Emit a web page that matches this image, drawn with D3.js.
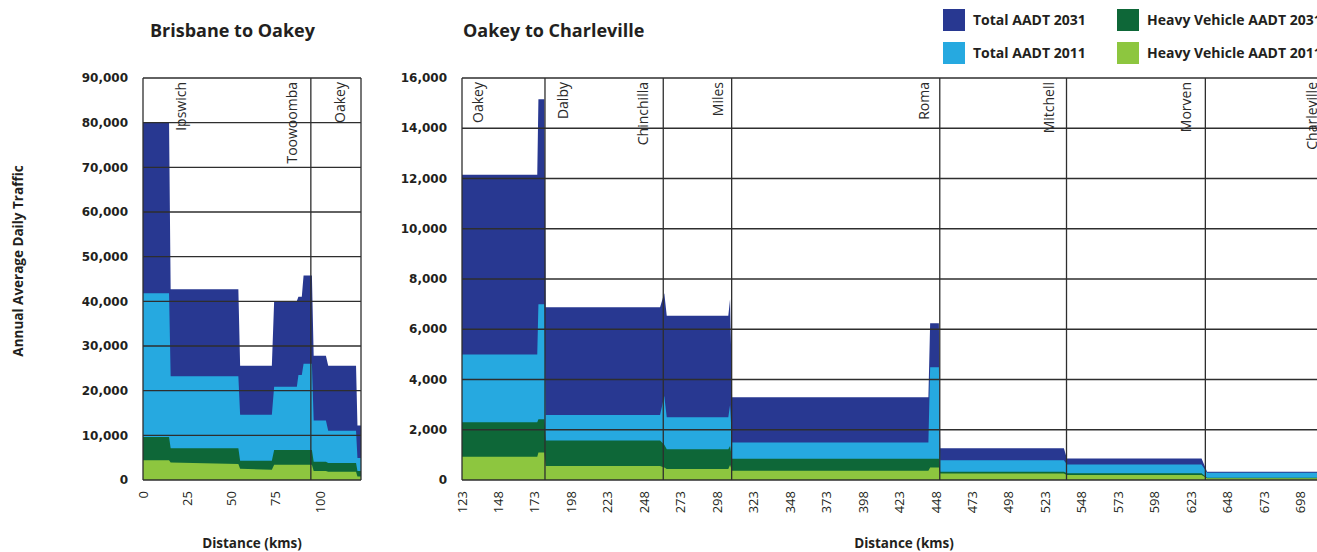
<!DOCTYPE html>
<html>
<head>
<meta charset="utf-8">
<script src="https://cdn.jsdelivr.net/npm/d3@7/dist/d3.min.js"></script>
<style>
  body { margin: 0; background: #fff; }
  svg { display: block; font-family: "Open Sans", sans-serif; }
</style>
</head>
<body>
<svg id="chart" width="1317" height="552"></svg>
<script>
const seriesNames = ["Total AADT 2031", "Total AADT 2011", "Heavy Vehicle AADT 2031", "Heavy Vehicle AADT 2011"];
const seriesColors = ["#283891", "#26a9e0", "#0e6738", "#8dc63f"];

// Brisbane to Oakey
const leftKm = [0, 14.7, 15.6, 53.8, 54.8, 72.7, 74, 86.8, 87.7, 89.6, 90.6, 95.3, 96.3, 103.2, 104.5, 120.2, 121, 123];
const leftTotal2031 = [80000, 80000, 42700, 42700, 25600, 25600, 40100, 40100, 41000, 41000, 45800, 45800, 27800, 27800, 25600, 25600, 12200, 12200];
const leftTotal2011 = [41800, 41800, 23200, 23200, 14600, 14600, 20900, 20900, 23500, 23500, 26000, 26000, 13300, 13300, 11000, 11000, 4900, 4900];
const leftHv2031 = [9600, 9600, 7100, 7100, 4300, 4300, 6700, 6700, 6700, 6700, 6700, 6700, 4100, 4100, 3800, 3800, 2000, 2000];
const leftHv2011 = [4400, 4400, 3900, 3600, 2500, 2300, 3400, 3400, 3400, 3400, 3400, 3400, 2000, 2000, 1850, 1850, 800, 800];
const leftTowns = ["Ipswich", "Toowoomba", "Oakey"];
const leftTownKm = [21.5, 84, 111];
const leftDividers = [94.7];
const leftXTicks = [0, 25, 50, 75, 100];
const leftYTicks = [0, 10000, 20000, 30000, 40000, 50000, 60000, 70000, 80000, 90000];

// Oakey to Charleville
const rightKm = [123, 174.6, 175.4, 179.5, 180.4, 258.8, 261.7, 263.4, 305.6, 306.8, 308.2, 442.8, 444, 450, 450.9, 535.7, 537.8, 630.1, 633.9, 728];
const rightTotal2031 = [12150, 12150, 15150, 15150, 6880, 6880, 7430, 6540, 6540, 7190, 3290, 3290, 6240, 6240, 1260, 1260, 860, 860, 330, 330];
const rightTotal2011 = [5000, 5000, 7000, 7000, 2590, 2590, 3340, 2500, 2500, 2990, 1490, 1490, 4490, 4490, 790, 790, 620, 620, 290, 290];
const rightHv2031 = [2300, 2300, 2420, 2420, 1570, 1570, 1400, 1220, 1220, 1350, 850, 850, 850, 850, 330, 330, 265, 265, 93, 93];
const rightHv2011 = [930, 930, 1090, 1090, 560, 560, 500, 440, 440, 600, 370, 370, 500, 500, 260, 260, 200, 200, 66, 66];
const rightTowns = ["Oakey", "Dalby", "Chinchilla", "Miles", "Roma", "Mitchell", "Morven", "Charleville"];
const rightTownKm = [134, 192.3, 247.1, 298.5, 439.6, 525.7, 619.7, 705.8];
const rightDividers = [179.9, 261, 307.9, 450.6, 537.5, 632.7];
const rightXTicks = [123, 148, 173, 198, 223, 248, 273, 298, 323, 348, 373, 398, 423, 448, 473, 498, 523, 548, 573, 598, 623, 648, 673, 698];
const rightYTicks = [0, 2000, 4000, 6000, 8000, 10000, 12000, 14000, 16000];

const svg = d3.select("#chart");
const gridColor = "#2e2e2e";
const fmt = d3.format(",");

const drawPanel = (p) => {
    const x = d3.scaleLinear().domain([p.km[0], p.km[p.km.length - 1]]).range([p.left, p.right]);
    const y = d3.scaleLinear().domain([0, d3.max(p.yTicks)]).range([480, 78]);
    const g = svg.append("g");

    const area = d3.area()
        .x((d, i) => x(p.km[i]))
        .y0(y(0))
        .y1(d => y(d));

    g.append("g")
        .selectAll("path")
        .data(p.series)
        .join("path")
        .attr("d", d => area(d))
        .attr("fill", (d, i) => seriesColors[i]);

    // grid
    g.append("g")
        .selectAll("line")
        .data(p.yTicks)
        .join("line")
        .attr("x1", p.left)
        .attr("x2", p.right)
        .attr("y1", d => y(d))
        .attr("y2", d => y(d))
        .attr("stroke", gridColor)
        .attr("stroke-width", 1.3);

    g.append("g")
        .selectAll("line")
        .data([p.km[0], ...p.dividers, p.km[p.km.length - 1]])
        .join("line")
        .attr("x1", d => x(d))
        .attr("x2", d => x(d))
        .attr("y1", y.range()[1])
        .attr("y2", y(0))
        .attr("stroke", gridColor)
        .attr("stroke-width", 1.3);

    // town names
    g.append("g")
        .attr("font-size", 14)
        .attr("fill", "#2a2a2a")
        .selectAll("text")
        .data(p.towns)
        .join("text")
        .attr("transform", (d, i) => `translate(${x(p.townKm[i])},82) rotate(-90)`)
        .attr("text-anchor", "end")
        .attr("dy", "0.35em")
        .text(d => d);

    // y axis labels
    g.append("g")
        .attr("font-family", "DejaVu Sans")
        .attr("font-weight", "bold")
        .attr("font-size", 12)
        .attr("fill", "#231f20")
        .selectAll("text")
        .data(p.yTicks)
        .join("text")
        .attr("x", p.left - 15)
        .attr("y", d => y(d))
        .attr("dy", "0.35em")
        .attr("text-anchor", "end")
        .text(d => fmt(d));

    // x axis labels
    g.append("g")
        .attr("font-size", 13)
        .attr("fill", "#231f20")
        .selectAll("text")
        .data(p.xTicks)
        .join("text")
        .attr("transform", d => `translate(${x(d)},491) rotate(-90)`)
        .attr("text-anchor", "end")
        .attr("dy", "0.35em")
        .text(d => d);

    g.append("text")
        .attr("x", p.titleX)
        .attr("y", 37)
        .attr("font-size", 18)
        .attr("font-weight", "bold")
        .attr("fill", "#231f20")
        .text(p.title);

    g.append("text")
        .attr("x", p.axisTitleX)
        .attr("y", 548)
        .attr("text-anchor", "middle")
        .attr("font-size", 13.5)
        .attr("font-weight", "bold")
        .attr("fill", "#231f20")
        .text("Distance (kms)");
};

drawPanel({
    title: "Brisbane to Oakey",
    titleX: 150,
    axisTitleX: 252,
    left: 143,
    right: 361,
    km: leftKm,
    series: [leftTotal2031, leftTotal2011, leftHv2031, leftHv2011],
    towns: leftTowns,
    townKm: leftTownKm,
    dividers: leftDividers,
    xTicks: leftXTicks,
    yTicks: leftYTicks
});

drawPanel({
    title: "Oakey to Charleville",
    titleX: 463,
    axisTitleX: 904,
    left: 462,
    right: 462 + (728 - 123) * 1.4584,
    km: rightKm,
    series: [rightTotal2031, rightTotal2011, rightHv2031, rightHv2011],
    towns: rightTowns,
    townKm: rightTownKm,
    dividers: rightDividers,
    xTicks: rightXTicks,
    yTicks: rightYTicks
});

svg.append("text")
    .attr("transform", "translate(23,261) rotate(-90)")
    .attr("text-anchor", "middle")
    .attr("font-size", 13.5)
    .attr("font-weight", "bold")
    .attr("fill", "#231f20")
    .text("Annual Average Daily Traffic");

// legend
const legend = svg.append("g")
    .selectAll("g")
    .data(seriesNames)
    .join("g")
    .attr("transform", (d, i) => `translate(${i < 2 ? 943 : 1117},${i % 2 === 0 ? 9 : 42})`);

legend.append("rect")
    .attr("width", 22)
    .attr("height", 22)
    .attr("fill", (d, i) => seriesColors[i]);

legend.append("text")
    .attr("x", 30)
    .attr("y", 11)
    .attr("dy", "0.35em")
    .attr("font-size", 14)
    .attr("font-weight", "bold")
    .attr("fill", "#231f20")
    .text(d => d);
</script>
</body>
</html>
